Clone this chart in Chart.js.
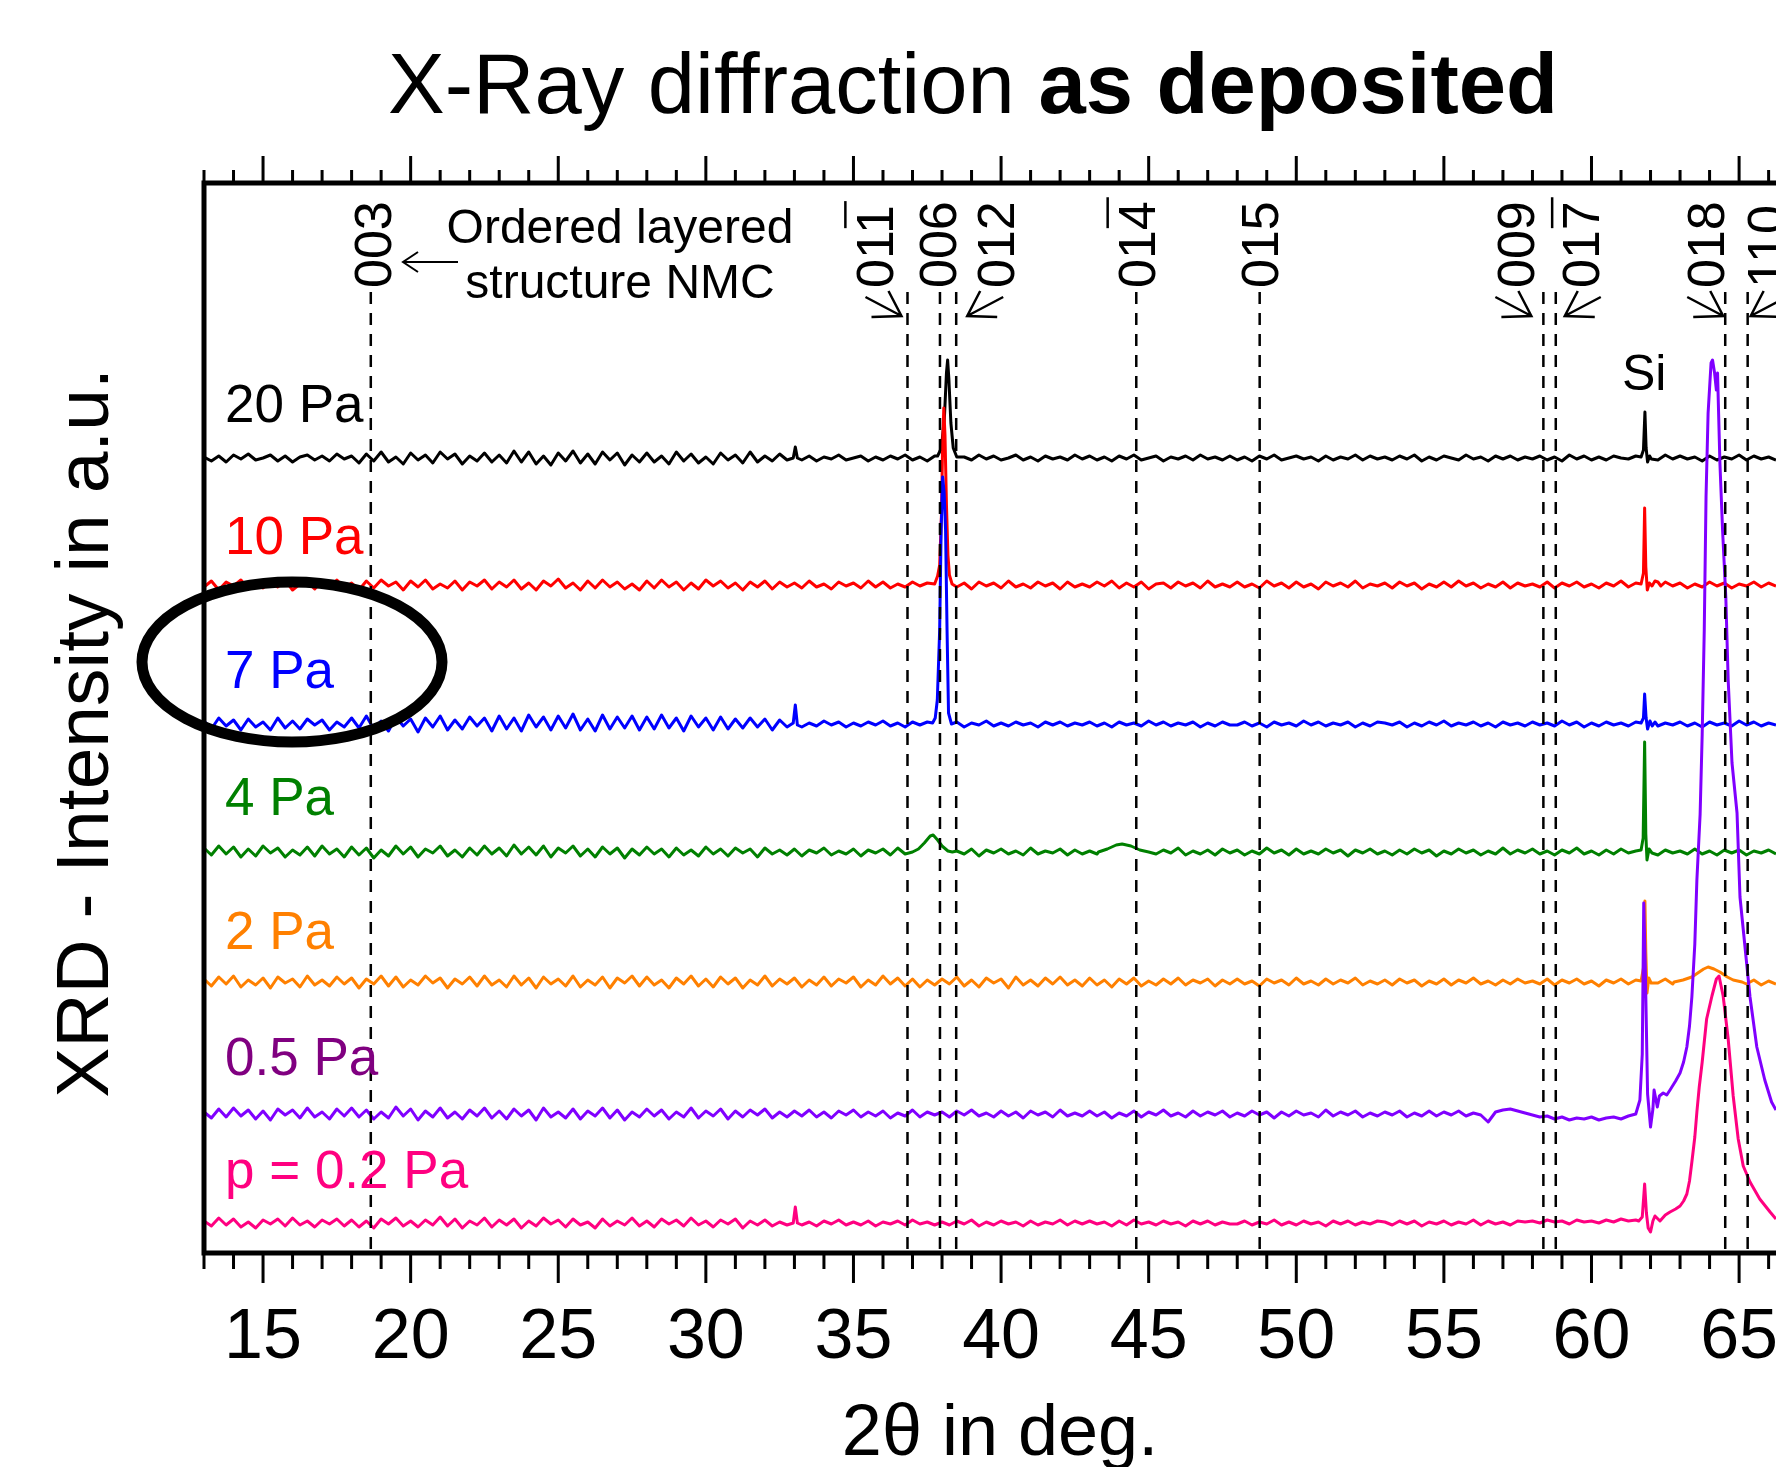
<!DOCTYPE html>
<html>
<head>
<meta charset="utf-8">
<title>X-Ray diffraction as deposited</title>
<script src="https://cdn.jsdelivr.net/npm/chart.js@4.4.1/dist/chart.umd.min.js"></script>
<style>
    html, body { margin: 0; padding: 0; background: #fff; }
    #wrap { width: 1776px; height: 1467px; position: relative; }
</style>
</head>
<body>
<div id="wrap"><canvas id="xrd"></canvas></div>
<script>
// ---- Data ----
// 2theta grid for the measured baselines (deg)
const thetaStart = 13;
const thetaStep = 0.25;
const xTicks = [15, 20, 25, 30, 35, 40, 45, 50, 55, 60, 65];

// vertical shift of every pattern (a.u.)
const seriesNames = ['20 Pa', '10 Pa', '7 Pa', '4 Pa', '2 Pa', '0.5 Pa', 'p = 0.2 Pa'];
const baselineOffsets = [795, 668, 529, 401, 271, 139, 30];

// baseline wiggle of each pattern on the grid (a.u.)
const noise20 = [
    1,-3,2,-4,3,-1,4,-2,0,3,-3,2,-4,1,3,-2,2,-3,4,-1,
    2,-5,4,-3,6,-4,1,-6,5,-2,3,-5,6,-1,4,-6,2,-3,5,-4,
    3,-5,7,-4,6,-6,2,-7,5,-3,7,-5,4,-6,6,-2,5,-7,3,-4,
    5,-4,2,-6,6,-3,4,-5,1,-6,5,-2,3,-5,6,-4,2,-3,4,-2,
    1,-2,2,-3,1,-1,3,-2,0,2,-3,1,-2,2,-1,3,-2,1,-3,2,
    -1,2,-3,1,-2,3,-1,2,-2,0,3,-2,1,-3,2,-1,1,-2,3,-1,
    2,-2,1,-3,2,-1,3,-2,0,2,-3,1,-1,2,-2,3,-1,1,-2,2,
    -2,1,-3,2,-1,3,-2,0,2,-1,1,-3,2,-2,1,-1,3,-2,2,-1,
    1,-2,2,-1,3,-3,1,-2,2,0,-2,3,-1,1,-3,2,-1,2,-2,1,
    -1,2,-2,1,-3,3,-1,2,-2,1,-2,2,0,-1,2,-3,1,-2,3,-1,
    2,-1,1,-3,2,-2,1,-1,3,-2,2,-1,1,-2
];
const noise10 = [
    -2,4,-5,3,-1,5,-4,2,-3,4,-2,5,-5,1,3,-4,4,-2,5,-3,
    2,-5,4,-3,5,-1,3,-5,4,-2,5,-4,1,-3,4,-5,3,-1,5,-4,
    3,-2,5,-4,2,-5,4,-1,6,-3,2,-5,4,-3,5,-2,3,-4,1,-5,
    4,-3,5,-2,3,-5,2,-4,5,-1,4,-3,2,-5,3,-2,4,-4,3,-2,
    2,-3,4,-2,1,-4,3,-1,2,-3,4,-2,3,-3,1,-2,3,-1,2,0,
    0,3,-2,2,-4,3,-1,2,-3,4,-2,1,-3,3,-1,2,-4,3,-2,1,
    -2,3,-1,4,-3,2,-2,3,-4,1,2,-3,3,-1,2,-3,4,-2,1,-2,
    3,-2,1,-3,4,-1,2,-3,3,-2,1,-4,3,-1,2,-2,4,-3,1,-1,
    2,-3,3,-1,2,-4,1,-2,3,-2,4,-1,2,-3,1,-2,3,-3,2,-1,
    1,-2,3,-3,2,-1,3,-2,1,-3,2,-1,4,-2,2,-3,1,-2,3,-1,
    2,-3,1,-2,3,-1,2,-3,1,-1,3,-2,2,-1
];
const noise7 = [
    3,-5,6,-2,4,-6,5,-3,2,-6,6,-4,3,-5,5,-1,4,-6,2,-3,
    6,-4,8,-5,3,-7,7,-2,5,-8,6,-3,8,-6,4,-5,7,-2,6,-7,
    8,-5,6,-7,9,-3,7,-6,8,-4,10,-6,5,-7,9,-5,7,-4,8,-6,
    7,-5,9,-4,6,-7,8,-3,6,-6,7,-5,5,-4,6,-3,5,-6,4,-3,
    2,-3,1,-2,3,-1,2,-3,1,-2,2,-1,3,-2,1,-3,2,-1,2,-2,
    1,-2,2,-3,1,-1,3,-2,1,-2,2,-1,1,-3,2,-1,2,-2,1,-1,
    2,-2,1,-3,2,-1,1,-2,3,-1,2,-2,1,-1,2,-3,1,-2,2,-1,
    -1,2,-2,1,-3,2,-1,1,-2,3,-1,2,-2,1,-1,2,-3,1,-2,2,
    1,-1,2,-3,1,-2,2,-1,3,-2,1,-1,2,-2,1,-3,2,-1,1,-2,
    2,-1,1,-2,3,-1,2,-3,1,-2,2,-1,1,-2,2,-1,3,-2,1,-1,
    2,-2,1,-3,2,-1,1,-2,3,-1,2,-2,1,-1
];
const noise4 = [
    4,-3,6,-2,5,-5,3,-4,6,-1,4,-5,2,-3,5,-4,6,-2,3,-5,
    5,-3,4,-6,2,-4,6,-2,5,-5,3,-1,6,-4,2,-5,4,-3,6,-2,
    4,-4,7,-2,5,-3,6,-5,4,-1,6,-4,3,-5,5,-2,4,-6,3,-3,
    5,-2,3,-5,4,-3,2,-4,5,-2,3,-4,4,-1,3,-5,4,-2,2,-3,
    3,-4,2,-1,4,-3,1,-2,3,-4,2,-1,3,-3,4,-2,1,-3,2,-2,
    2,-3,1,-2,3,-4,2,-1,3,-2,1,-3,4,-2,1,-1,3,-3,2,-2,
    1,-2,3,-1,2,-3,1,-2,3,-2,2,-1,4,-3,1,-2,2,-3,3,-1,
    2,-3,1,-2,4,-1,2,-3,3,-2,1,-2,3,-1,2,-4,2,-1,3,-2,
    1,-3,2,-2,3,-1,2,-4,1,-2,3,-1,2,-3,1,-2,4,-2,2,-1,
    3,-2,1,-3,2,-1,4,-2,1,-3,2,-2,3,-1,1,-2,3,-3,2,-1,
    1,-2,3,-2,1,-3,2,-1,2,-3,1,-1,2,-2
];
const noise2 = [
    3,-4,5,-2,6,-5,2,-3,4,-6,5,-1,3,-5,6,-3,2,-4,5,-2,
    4,-6,3,-2,6,-4,5,-5,2,-3,6,-1,4,-6,3,-2,5,-4,6,-3,
    2,-5,6,-3,4,-6,5,-2,3,-4,6,-5,2,-3,5,-6,4,-1,6,-4,
    5,-3,2,-6,4,-2,6,-4,3,-5,5,-2,4,-6,2,-3,6,-4,3,-2,
    4,-5,2,-3,5,-4,3,-1,5,-5,2,-3,6,-2,4,-4,3,-5,2,-3,
    3,-2,5,-4,2,-5,4,-1,3,-6,5,-3,2,-4,4,-2,5,-3,2,-4,
    4,-3,2,-5,3,-2,4,-4,1,-3,3,-2,4,-3,2,-1,3,-4,2,-2,
    3,-2,1,-4,3,-1,2,-3,4,-2,1,-3,3,-2,2,-1,4,-3,1,-2,
    2,-3,3,-1,2,-4,1,-2,3,-3,2,-1,4,-2,1,-3,2,-2,3,-1,
    1,-2,3,-3,2,-1,3,-2,1,-4,2,-1,3,-2,2,-3,1,-1,3,-2,
    2,-1,1,-3,2,-2,1,-1,3,-2,2,-3,1,-2
];
const noise05 = [
    2,-4,5,-3,6,-2,4,-5,3,-6,5,-1,4,-4,6,-3,2,-5,5,-2,
    6,-3,4,-5,2,-4,7,-2,5,-6,3,-3,6,-4,2,-5,4,-2,6,-4,
    3,-5,5,-2,4,-6,6,-3,2,-4,5,-5,3,-2,6,-4,4,-6,2,-3,
    5,-2,4,-5,2,-3,6,-4,3,-2,5,-5,3,-3,4,-1,5,-4,2,-3,
    3,-2,4,-3,2,-4,3,-1,4,-3,2,-2,3,-4,1,-2,4,-3,2,-1,
    2,-3,3,-1,4,-2,1,-3,3,-2,2,-4,3,-1,2,-3,4,-2,1,-2,
    3,-2,2,-4,1,-2,3,-3,2,-1,4,-2,1,-3,3,-2,2,-1,3,-3,
    1,-2,3,-1,2,-4,2,-2,3,-1,1,-3,4,-2,2,-1,3,-3,1,-2,
    2,-1,3,-3,1,-2,3,-2,2,-1,3,-2,1,-1,-8,2,4,5,3,1,
    -1,-3,-2,-5,-3,-6,-4,-5,-3,-6,-4,-3,-5,-2,0,0,0,0,0,0,
    0,0,0,0,0,0,0,0,0,0,0,0,0,0
];
const noise02 = [
    2,-3,5,-2,4,-4,1,-5,3,-1,4,-3,5,-2,2,-4,3,-1,4,-3,
    3,-4,2,-5,4,-1,5,-3,2,-4,3,-2,6,-3,4,-5,2,-2,5,-4,
    3,-2,4,-5,2,-3,5,-1,3,-4,4,-2,1,-5,4,-3,2,-2,5,-3,
    2,-4,4,-1,3,-3,5,-2,2,-4,3,-1,4,-5,2,-2,3,-3,1,-2,
    2,-2,1,-3,2,-1,3,-2,1,-2,2,-3,1,-1,2,-2,3,-1,1,-2,
    1,-2,2,-1,3,-3,1,-2,2,-1,1,-3,2,-2,1,-1,3,-2,2,-1,
    2,-1,1,-3,2,-2,3,-1,1,-2,2,-1,1,-3,2,-1,2,-2,1,-1,
    -1,2,-2,1,-1,3,-2,1,-2,2,-1,1,-3,2,-1,2,-2,1,-1,2,
    1,-2,2,-1,2,-3,1,-1,2,-2,1,-1,3,-2,2,-1,1,-2,2,1,
    2,0,3,1,2,-1,3,1,2,0,3,1,4,2,3,0,0,0,0,0,
    0,0,0,0,0,0,0,0,0,0,0,0,0,0
];

// reflections: [2theta, intensity above baseline]
const peaks20 = [
    [[32.96, 0], [33.03, 11], [33.1, 0]],
    [[37.85, 2], [37.98, 10], [38.08, 40], [38.15, 85], [38.19, 98], [38.23, 80], [38.3, 35], [38.38, 10], [38.5, 1]],
    [[61.68, 1], [61.76, 8], [61.81, 46], [61.85, 10], [61.9, -4], [61.97, 2], [62.03, -1]]
];
const peaks10 = [
    [[37.75, 1], [37.85, 9], [37.92, 20], [37.98, 70], [38.02, 140], [38.06, 177], [38.1, 150], [38.15, 80], [38.2, 30], [38.25, 10], [38.34, 1]],
    [[61.68, 1], [61.76, 12], [61.8, 77], [61.84, 18], [61.89, -5], [61.96, 2], [62.05, -1], [62.15, 4], [62.25, 3], [62.35, -1]]
];
const peaks7 = [
    [[32.96, 1], [33.03, 19], [33.1, -1]],
    [[37.68, 1], [37.77, 6], [37.84, 24], [37.92, 94], [37.97, 194], [38.02, 247], [38.07, 232], [38.12, 194], [38.17, 94], [38.22, 11], [38.32, 0]],
    [[61.68, 1], [61.76, 6], [61.8, 30], [61.85, 6], [61.9, -5], [61.98, 3], [62.06, -2], [62.15, 2]]
];
const peaks4 = [
    [[37.0, 0], [37.2, 3], [37.4, 9], [37.6, 16], [37.7, 17], [37.85, 12], [38.0, 6], [38.2, 1], [38.35, 0]],
    [[43.3, 0], [43.6, 3], [43.9, 7], [44.1, 8], [44.4, 6], [44.7, 2], [45.0, 0]],
    [[61.68, 2], [61.75, 14], [61.8, 110], [61.84, 18], [61.88, -8], [61.95, 3], [62.05, -1]]
];
const peaks2 = [
    [[61.68, 1], [61.76, 14], [61.81, 81], [61.84, 30], [61.88, -11], [61.94, 4], [62.02, -1]],
    [[62.8, 0], [63.1, 2], [63.4, 5], [63.6, 9], [63.8, 13], [63.95, 15], [64.15, 13], [64.35, 10], [64.6, 5], [64.8, 2], [65.1, 0]]
];
const peaks05 = [
    [[61.5, 0], [61.64, 14], [61.72, 60], [61.77, 211], [61.82, 150], [61.9, 20], [62.0, -13], [62.08, 5], [62.12, 24],
     [62.23, 7], [62.3, 18], [62.43, 21], [62.55, 19], [62.66, 24], [62.85, 33], [63.0, 41], [63.12, 52], [63.23, 67],
     [63.32, 88], [63.4, 117], [63.5, 170], [63.57, 234], [63.68, 300], [63.75, 380], [63.82, 484], [63.88, 617],
     [63.95, 701], [64.05, 751], [64.1, 754], [64.17, 741], [64.23, 724], [64.27, 741], [64.35, 651], [64.44, 584],
     [64.55, 517], [64.63, 434], [64.76, 351], [64.93, 301], [65.03, 217], [65.2, 167], [65.37, 117], [65.6, 67],
     [65.87, 34], [66.1, 12], [66.25, 4]]
];
const peaks02 = [
    [[32.96, 0], [33.03, 16], [33.1, 0]],
    [[61.6, 2], [61.72, 6], [61.8, 39], [61.86, 10], [61.92, -5], [62.0, -9], [62.08, 2], [62.15, 7], [62.32, 2],
     [62.5, 8], [62.66, 11], [62.85, 14], [63.0, 17], [63.12, 22], [63.23, 29], [63.32, 42], [63.4, 61], [63.5, 86],
     [63.57, 111], [63.65, 136], [63.75, 161], [63.9, 204], [64.08, 227], [64.23, 244], [64.32, 247], [64.46, 227],
     [64.63, 184], [64.8, 127], [64.97, 84], [65.14, 57], [65.37, 41], [65.7, 24], [66.05, 11], [66.25, 4]]
];

// NMC reference positions (dashed lines)
const refPositions = [18.65, 36.83, 37.93, 38.48, 44.58, 48.76, 58.37, 58.79, 64.53, 65.29];
const refLabels = ['003', '011', '006', '012', '014', '015', '009', '017', '018', '110'];
const refBarred = [false, true, false, false, true, false, false, true, false, false];

// ---- Styling ----
const FONT = "'Liberation Sans', Arial, Helvetica, sans-serif";
const seriesColors = ['#000000', '#ff0000', '#0000ff', '#008000', '#ff8000', '#8000ff', '#ff0080'];
const labelColors = ['#000000', '#ff0000', '#0000ff', '#008000', '#ff8000', '#800080', '#ff0080'];
const drawOrder = [7, 6, 5, 4, 3, 1, 2];  // purple on top

function buildSeries(noise, offset, peaks) {
    let pts = noise.map((v, i) => ({ x: thetaStart + i * thetaStep, y: offset + v }));
    peaks.forEach(pk => {
        const lo = pk[0][0], hi = pk[pk.length - 1][0];
        pts = pts.filter(p => p.x < lo || p.x > hi);
        pk.forEach(([x, v]) => pts.push({ x, y: offset + v }));
    });
    return pts.sort((a, b) => a.x - b.x);
}

const noiseSets = [noise20, noise10, noise7, noise4, noise2, noise05, noise02];
const peakSets = [peaks20, peaks10, peaks7, peaks4, peaks2, peaks05, peaks02];

const datasets = seriesNames.map((name, i) => ({
    label: name,
    data: buildSeries(noiseSets[i], baselineOffsets[i], peakSets[i]),
    borderColor: seriesColors[i],
    borderWidth: 3,
    borderJoinStyle: 'round',
    showLine: true,
    pointRadius: 0,
    order: drawOrder[i]
}));

// dashed reference lines
refPositions.forEach((p, i) => {
    datasets.push({
        label: refLabels[i],
        data: [{ x: p, y: 961 }, { x: p, y: 0 }],
        borderColor: '#000',
        borderWidth: 2.5,
        borderDash: [12, 9],
        showLine: true,
        pointRadius: 0,
        order: 0
    });
});

// ---- Annotations drawn on top ----
// px shift of each rotated label from its dashed line, and arrow tip shift (null = no arrow)
const labelShift = [1.5, -33.5, -2.6, 39, 0, 0, -28, 25, -20, 18];
const arrowShift = [null, -6, null, 11, null, null, -12, 9, -2, 3];

function drawArrow(ctx, tx, ty, dir) {
    ctx.beginPath();
    ctx.moveTo(tx + dir * 36, ty - 19); ctx.lineTo(tx, ty);
    ctx.moveTo(tx + dir * 30, ty + 1); ctx.lineTo(tx, ty);
    ctx.lineTo(tx + dir * 13, ty - 25);
    ctx.stroke();
}

const decorations = {
    id: 'decorations',
    afterDraw(chart) {
        const { ctx, chartArea: a, scales: { x } } = chart;
        ctx.save();
        ctx.strokeStyle = '#000';
        ctx.fillStyle = '#000';

        // frame
        ctx.lineWidth = 5;
        ctx.beginPath();
        ctx.moveTo(a.left - 2.5, a.top); ctx.lineTo(a.right + 5, a.top);
        ctx.moveTo(a.left - 2.5, a.bottom); ctx.lineTo(a.right + 5, a.bottom);
        ctx.moveTo(a.left, a.top); ctx.lineTo(a.left, a.bottom);
        ctx.stroke();

        // ticks, outward on top and bottom
        ctx.lineWidth = 3;
        ctx.beginPath();
        for (let v = Math.ceil(x.min); v <= x.max; v++) {
            const px = x.getPixelForValue(v);
            const major = xTicks.includes(v);
            ctx.moveTo(px, a.top - 2); ctx.lineTo(px, a.top - (major ? 27 : 13));
            ctx.moveTo(px, a.bottom + 2); ctx.lineTo(px, a.bottom + (major ? 30 : 16));
        }
        ctx.stroke();

        // title
        ctx.textBaseline = 'alphabetic';
        ctx.textAlign = 'left';
        const t1 = 'X-Ray diffraction ', t2 = 'as deposited';
        ctx.font = '85px ' + FONT;
        const w1 = ctx.measureText(t1).width;
        ctx.font = 'bold 85px ' + FONT;
        const w2 = ctx.measureText(t2).width;
        const tx0 = 973 - (w1 + w2) / 2;
        ctx.font = '85px ' + FONT;
        ctx.fillText(t1, tx0, 113);
        ctx.font = 'bold 85px ' + FONT;
        ctx.fillText(t2, tx0 + w1, 113);

        // axis titles
        ctx.font = '72px ' + FONT;
        ctx.textAlign = 'center';
        ctx.fillText('2\u03b8 in deg.', 1000, 1455);
        ctx.save();
        ctx.translate(108, 733);
        ctx.rotate(-Math.PI / 2);
        ctx.font = '75px ' + FONT;
        ctx.fillText('XRD - Intensity in a.u.', 0, 0);
        ctx.restore();

        // pressure labels
        const labelBase = [422, 554, 688, 815, 949, 1075, 1188];
        ctx.font = '53px ' + FONT;
        ctx.textAlign = 'left';
        seriesNames.forEach((n, i) => {
            ctx.fillStyle = labelColors[i];
            ctx.fillText(n, 225, labelBase[i]);
        });
        ctx.fillStyle = '#000';

        // reflection labels
        const fs = 52;
        ctx.font = fs + 'px ' + FONT;
        ctx.lineWidth = 2.5;
        refPositions.forEach((p, i) => {
            const px = x.getPixelForValue(p);
            const cx = px + labelShift[i];
            ctx.save();
            ctx.translate(cx + 0.358 * fs, 288);
            ctx.rotate(-Math.PI / 2);
            ctx.textAlign = 'left';
            ctx.fillText(refLabels[i], 0, 0);
            if (refBarred[i]) {
                const wa = ctx.measureText(refLabels[i].slice(0, 2)).width;
                const wb = ctx.measureText(refLabels[i]).width;
                ctx.beginPath();
                ctx.moveTo(wa + 2, -0.716 * fs - 10);
                ctx.lineTo(wb + 4, -0.716 * fs - 10);
                ctx.stroke();
            }
            ctx.restore();
            if (arrowShift[i] !== null) {
                const dir = arrowShift[i] < 0 || i === 8 ? -1 : 1;
                drawArrow(ctx, px + arrowShift[i], 316, dir);
            }
        });

        // NMC note with arrow
        ctx.font = '48px ' + FONT;
        ctx.textAlign = 'center';
        ctx.fillText('Ordered layered', 620, 243);
        ctx.fillText('structure NMC', 620, 298);
        ctx.lineWidth = 2;
        ctx.beginPath();
        ctx.moveTo(458, 262); ctx.lineTo(403, 262);
        ctx.moveTo(418, 252); ctx.lineTo(403, 262); ctx.lineTo(418, 272);
        ctx.stroke();

        // Si
        ctx.font = '50px ' + FONT;
        ctx.textAlign = 'left';
        ctx.fillText('Si', 1622, 390);

        // highlight ellipse round 7 Pa
        ctx.lineWidth = 11;
        ctx.beginPath();
        ctx.ellipse(292, 662, 150, 80, 0, 0, Math.PI * 2);
        ctx.stroke();

        ctx.restore();
    }
};

new Chart(document.getElementById('xrd'), {
    type: 'scatter',
    data: { datasets },
    options: {
        responsive: true,
        maintainAspectRatio: false,
        animation: false,
        devicePixelRatio: 1,
        layout: { padding: { left: 204, right: 0, top: 183, bottom: 0 } },
        plugins: { legend: { display: false }, tooltip: { enabled: false }, title: { display: false } },
        elements: { line: { tension: 0 }, point: { radius: 0 } },
        scales: {
            x: {
                type: 'linear',
                min: 13,
                max: 66.25,
                border: { display: false },
                grid: { display: false, drawTicks: false },
                afterBuildTicks: scale => { scale.ticks = xTicks.map(v => ({ value: v })); },
                afterFit: scale => {
                    scale.height = 214;
                    scale.paddingLeft = 0;
                    scale.paddingRight = 0;
                },
                ticks: {
                    maxRotation: 0,
                    autoSkip: false,
                    padding: 44,
                    color: '#000',
                    font: { family: FONT, size: 70 }
                }
            },
            y: {
                display: false,
                min: 0,
                max: 1070
            }
        }
    },
    plugins: [decorations]
});
</script>
</body>
</html>
